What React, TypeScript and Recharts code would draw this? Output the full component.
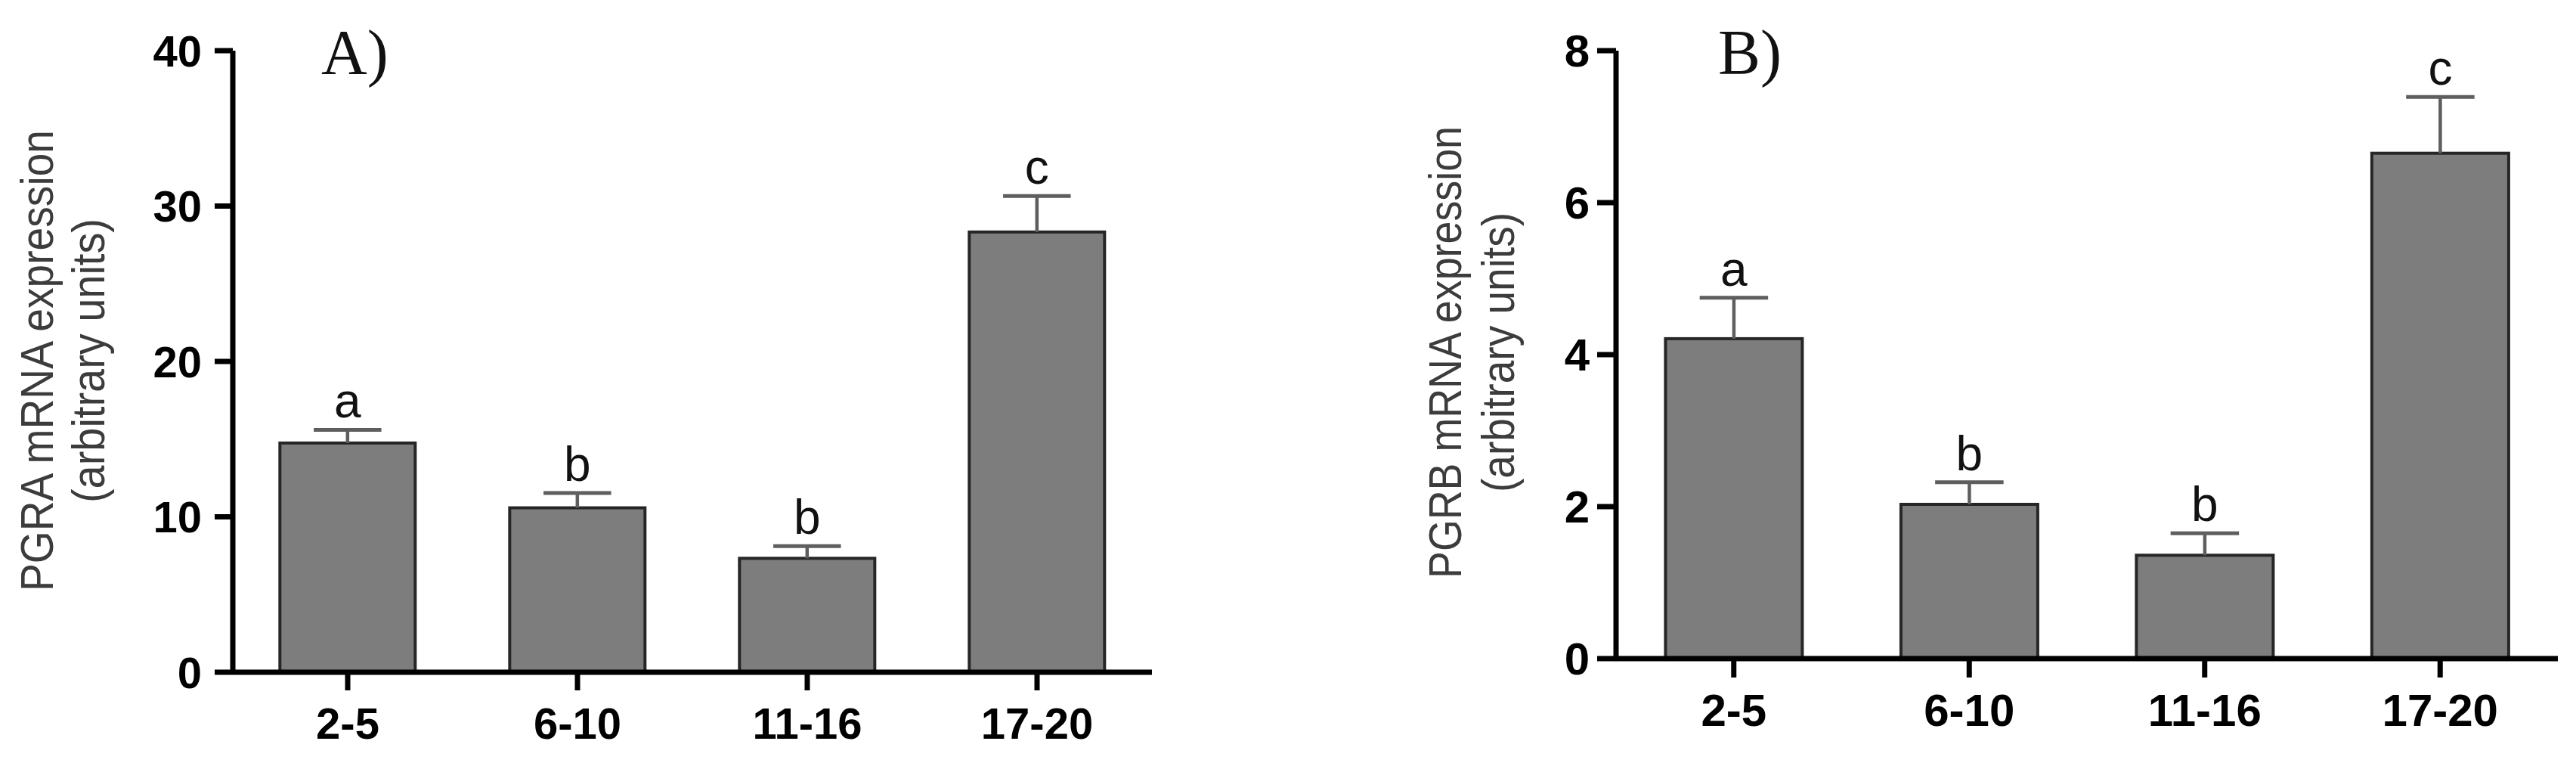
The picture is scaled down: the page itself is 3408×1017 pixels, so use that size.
import { BarChart, Bar, XAxis, YAxis } from "recharts"

// age groups (weeks) on the x axis
const groups = ["2-5", "6-10", "11-16", "17-20"]
const letters = ["a", "b", "b", "c"]

// PGRA panel
const pgraMean = [14.75, 10.58, 7.33, 28.33]
const pgraSem = [0.85, 0.95, 0.79, 2.31]
const pgraTicks = [0, 10, 20, 30, 40]

// PGRB panel
const pgrbMean = [4.21, 2.03, 1.36, 6.65]
const pgrbSem = [0.54, 0.29, 0.29, 0.74]
const pgrbTicks = [0, 2, 4, 6, 8]

const SANS = "'Liberation Sans', Arial, Helvetica, sans-serif"
const SERIF = "'Liberation Serif', 'Times New Roman', serif"

type PanelCfg = {
  left: number
  width: number
  yWidth: number
  right: number
  xHeight: number
  fontSize: number
  yTickMargin: number
  xTickMargin: number
  tickSize: number
  gap: string
  ticks: number[]
  mean: number[]
  sem: number[]
  titleLines: string[]
  titleX: number[]
  titleLen: number[]
  titleY: number
  tag: string
  tagX: number
}

const panels: PanelCfg[] = [
  {
    left: 0,
    width: 1600,
    yWidth: 308,
    right: 76,
    xHeight: 128,
    fontSize: 58,
    yTickMargin: 17,
    xTickMargin: 23,
    tickSize: 24,
    gap: "20.5%",
    ticks: pgraTicks,
    mean: pgraMean,
    sem: pgraSem,
    titleLines: ["PGRA mRNA expression", "(arbitrary units)"],
    titleX: [70, 138],
    titleLen: [610, 376],
    titleY: 477,
    tag: "A)",
    tagX: 425,
  },
  {
    left: 1600,
    width: 1808,
    yWidth: 538,
    right: 24,
    xHeight: 146,
    fontSize: 60,
    yTickMargin: 10,
    xTickMargin: 21,
    tickSize: 25,
    gap: "21%",
    ticks: pgrbTicks,
    mean: pgrbMean,
    sem: pgrbSem,
    titleLines: ["PGRB mRNA expression", "(arbitrary units)"],
    titleX: [333, 403],
    titleLen: [598, 370],
    titleY: 466,
    tag: "B)",
    tagX: 673,
  },
]

// bar + one-sided SEM whisker + significance letter
function BarWithError(props: any) {
  const { x, y, width, height, payload } = props
  if (!payload || !height) return null
  const perUnit = height / payload.mean
  const yErr = y - payload.sem * perUnit
  const cx = x + width / 2
  const cap = width / 4
  return (
    <g>
      <rect
        x={x}
        y={y}
        width={width}
        height={height}
        fill="#7d7d7d"
        stroke="#262626"
        strokeWidth={4}
      />
      <line x1={cx} x2={cx} y1={y} y2={yErr} stroke="#5e5e5e" strokeWidth={4.5} />
      <line
        x1={cx - cap}
        x2={cx + cap}
        y1={yErr}
        y2={yErr}
        stroke="#5e5e5e"
        strokeWidth={5}
      />
      <text
        x={cx}
        y={yErr - 16}
        textAnchor="middle"
        fontSize={64}
        fontFamily={SANS}
        fill="#111"
      >
        {payload.letter}
      </text>
    </g>
  )
}

// y title (two rotated lines) and the panel tag
function PanelText({ cfg }: { cfg: PanelCfg }) {
  return (
    <g>
      {cfg.titleLines.map((t, i) => (
        <text
          key={i}
          x={cfg.titleX[i]}
          y={cfg.titleY}
          transform={`rotate(-90, ${cfg.titleX[i]}, ${cfg.titleY})`}
          textAnchor="middle"
          fontSize={62}
          fontFamily={SANS}
          fill="#3c3c3c"
          textLength={cfg.titleLen[i]}
          lengthAdjust="spacingAndGlyphs"
        >
          {t}
        </text>
      ))}
      <text x={cfg.tagX} y={98} fontSize={84} fontFamily={SERIF} fill="#111">
        {cfg.tag}
      </text>
    </g>
  )
}

function Panel({ cfg }: { cfg: PanelCfg }) {
  const data = groups.map((g, i) => ({
    group: g,
    mean: cfg.mean[i],
    sem: cfg.sem[i],
    letter: letters[i],
  }))
  const tickStyle = {
    fontSize: cfg.fontSize,
    fontWeight: 700,
    fill: "#000",
    fontFamily: SANS,
  }
  const axisStroke = { stroke: "#000", strokeWidth: 7 }
  const max = cfg.ticks[cfg.ticks.length - 1]
  return (
    <div style={{ position: "absolute", left: cfg.left, top: 0 }}>
      <BarChart
        width={cfg.width}
        height={1017}
        data={data}
        margin={{ top: 67, right: cfg.right, bottom: 0, left: 0 }}
        barCategoryGap={cfg.gap}
      >
        <XAxis
          dataKey="group"
          height={cfg.xHeight}
          interval={0}
          tick={tickStyle}
          tickSize={cfg.tickSize}
          tickMargin={cfg.xTickMargin}
          axisLine={axisStroke}
          tickLine={axisStroke}
        />
        <YAxis
          type="number"
          domain={[0, max]}
          ticks={cfg.ticks}
          width={cfg.yWidth}
          tick={tickStyle}
          tickSize={cfg.tickSize}
          tickMargin={cfg.yTickMargin}
          axisLine={axisStroke}
          tickLine={axisStroke}
          label={<PanelText cfg={cfg} />}
        />
        <Bar dataKey="mean" shape={BarWithError} isAnimationActive={false} />
      </BarChart>
    </div>
  )
}

export default function App() {
  return (
    <div
      style={{
        position: "absolute",
        left: 0,
        top: 0,
        width: 3408,
        height: 1017,
        background: "#fff",
        overflow: "hidden",
      }}
    >
      {panels.map((p) => (
        <Panel key={p.tag} cfg={p} />
      ))}
    </div>
  )
}
